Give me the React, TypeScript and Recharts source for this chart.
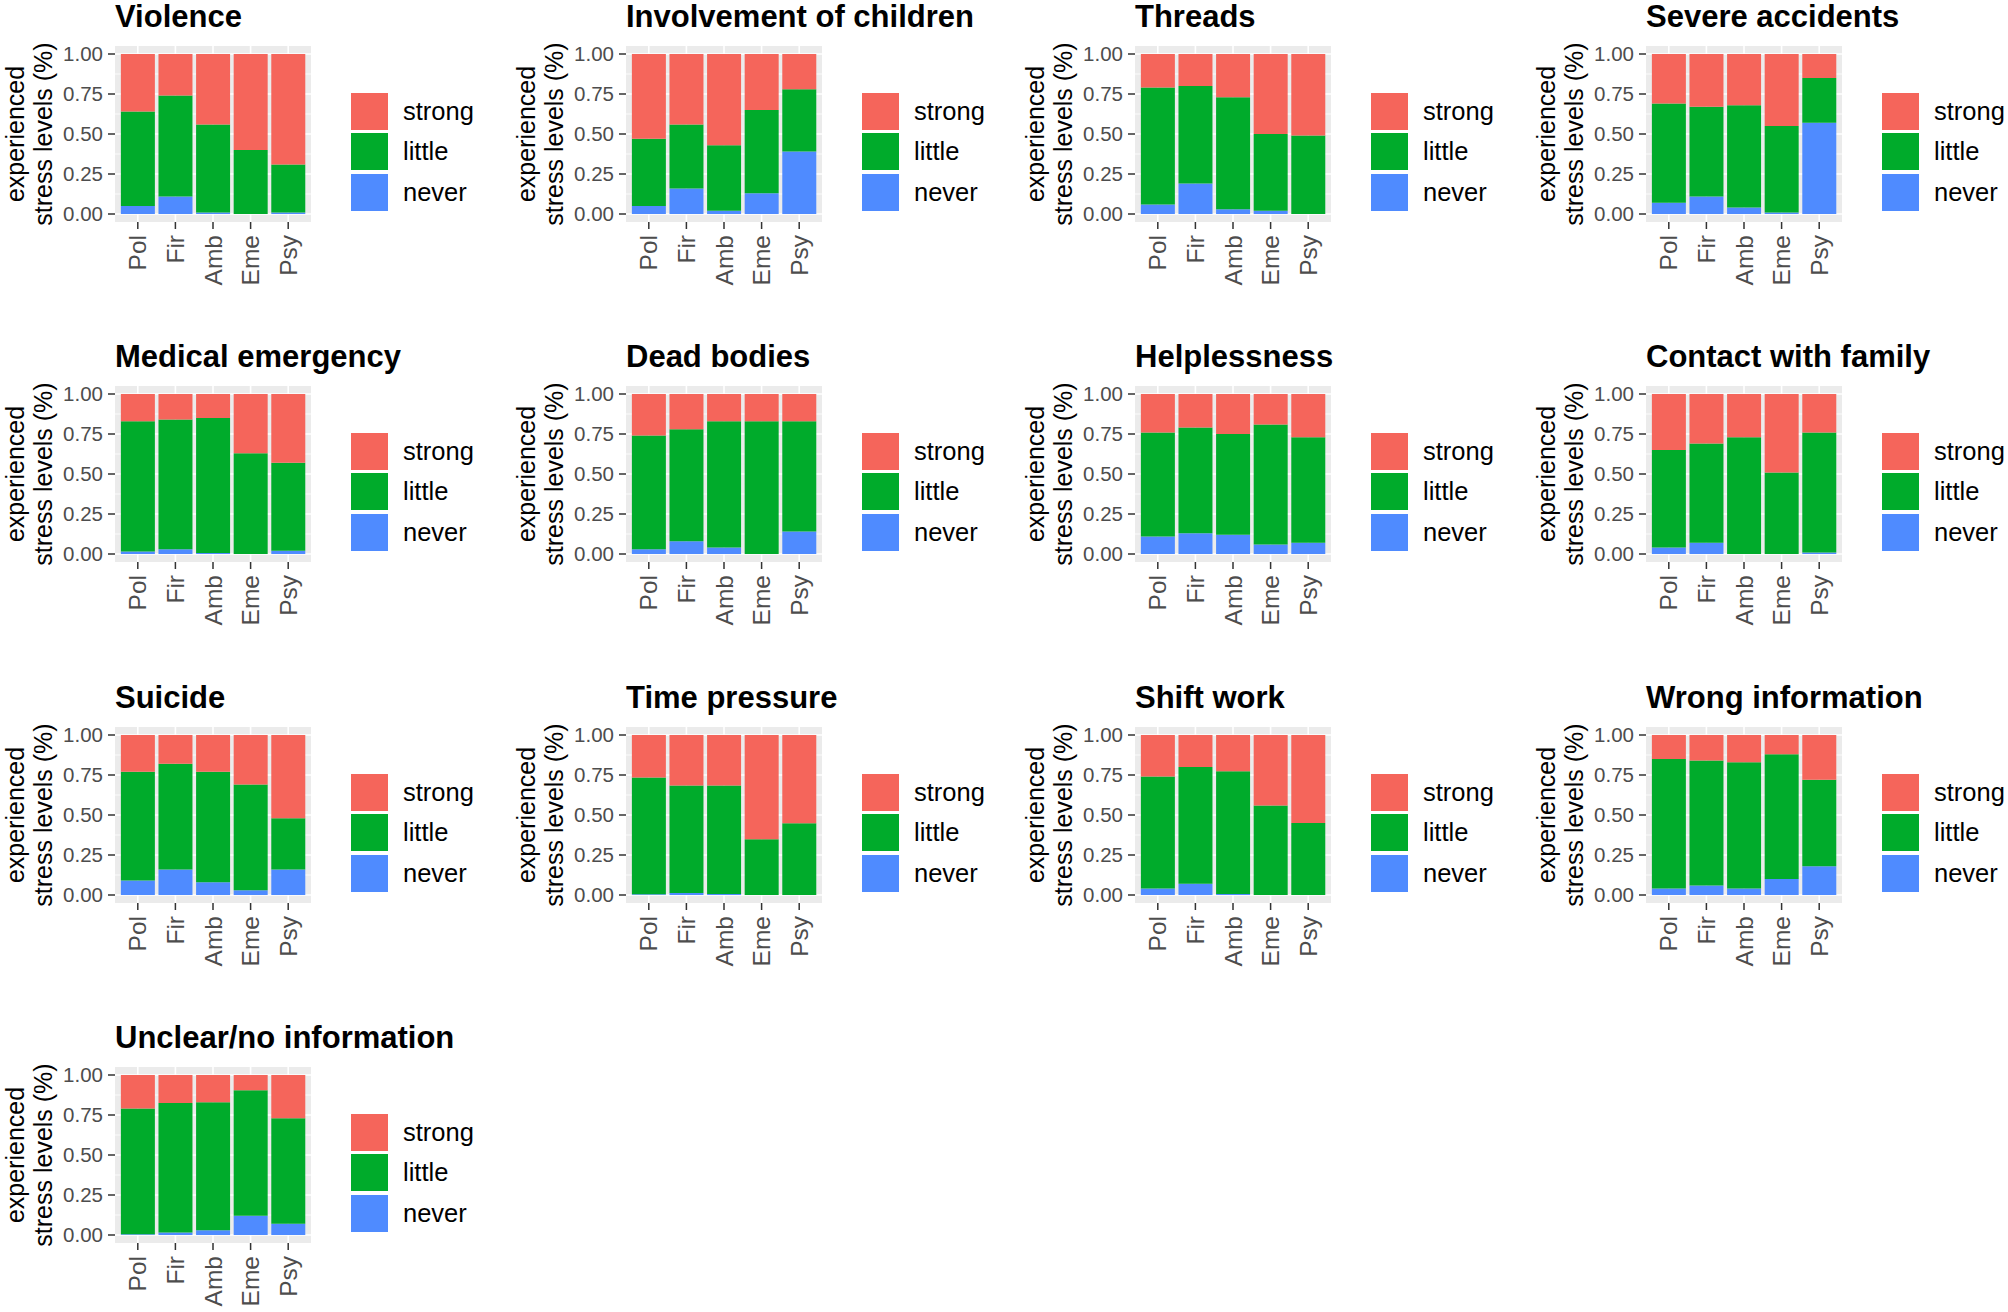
import { Bar, BarChart, CartesianGrid, Legend, XAxis, YAxis } from "recharts";

const services = ["Pol", "Fir", "Amb", "Eme", "Psy"];

const panelTitles = [
  "Violence",
  "Involvement of children",
  "Threads",
  "Severe accidents",
  "Medical emergency",
  "Dead bodies",
  "Helplessness",
  "Contact with family",
  "Suicide",
  "Time pressure",
  "Shift work",
  "Wrong information",
  "Unclear/no information"
];

// share of answers per panel, one row per panel, one value per service
const neverShares = [
  [0.05, 0.11, 0.01, 0.0, 0.01],
  [0.05, 0.16, 0.02, 0.13, 0.39],
  [0.06, 0.19, 0.03, 0.02, 0.0],
  [0.07, 0.11, 0.04, 0.01, 0.57],
  [0.015, 0.03, 0.006, 0.0, 0.02],
  [0.03, 0.08, 0.04, 0.0, 0.14],
  [0.11, 0.13, 0.12, 0.06, 0.07],
  [0.04, 0.07, 0.0, 0.0, 0.01],
  [0.09, 0.16, 0.08, 0.03, 0.16],
  [0.005, 0.012, 0.006, 0.0, 0.0],
  [0.04, 0.07, 0.006, 0.0, 0.0],
  [0.04, 0.06, 0.04, 0.1, 0.18],
  [0.005, 0.015, 0.03, 0.12, 0.07]
];

const littleShares = [
  [0.59, 0.63, 0.55, 0.4, 0.3],
  [0.42, 0.4, 0.41, 0.52, 0.39],
  [0.73, 0.61, 0.7, 0.48, 0.49],
  [0.62, 0.56, 0.64, 0.54, 0.28],
  [0.815, 0.81, 0.844, 0.63, 0.55],
  [0.71, 0.7, 0.79, 0.83, 0.69],
  [0.65, 0.66, 0.63, 0.75, 0.66],
  [0.61, 0.62, 0.73, 0.51, 0.75],
  [0.68, 0.66, 0.69, 0.66, 0.32],
  [0.729, 0.673, 0.679, 0.349, 0.448],
  [0.7, 0.73, 0.767, 0.56, 0.45],
  [0.81, 0.78, 0.79, 0.78, 0.54],
  [0.785, 0.81, 0.8, 0.785, 0.66]
];

const strongShares = [
  [0.36, 0.26, 0.44, 0.6, 0.69],
  [0.53, 0.44, 0.57, 0.35, 0.22],
  [0.21, 0.2, 0.27, 0.5, 0.51],
  [0.31, 0.33, 0.32, 0.45, 0.15],
  [0.17, 0.16, 0.15, 0.37, 0.43],
  [0.26, 0.22, 0.17, 0.17, 0.17],
  [0.24, 0.21, 0.25, 0.19, 0.27],
  [0.35, 0.31, 0.27, 0.49, 0.24],
  [0.23, 0.18, 0.23, 0.31, 0.52],
  [0.266, 0.315, 0.315, 0.651, 0.552],
  [0.26, 0.2, 0.227, 0.44, 0.55],
  [0.15, 0.16, 0.17, 0.12, 0.28],
  [0.21, 0.175, 0.17, 0.095, 0.27]
];

const yTicks = [0, 0.25, 0.5, 0.75, 1];
const yMinorTicks = [0.125, 0.375, 0.625, 0.875];

const levelColors: Record<string, string> = {
  strong: "#F5655B",
  little: "#00AB2B",
  never: "#4F8BFF"
};
// stacking order bottom to top, legend shows it top to bottom
const stackOrder = ["never", "little", "strong"];
const legendOrder = ["strong", "little", "never"];

const colX = [0, 511, 1020, 1531];
const rowY = [0, 340, 681, 1021];

const FONT = "'Liberation Sans', Arial, Helvetica, sans-serif";
const CHART_W = 510;
const CHART_H = 300;
const X_PAD = 4;

function buildRows(panel: number) {
  return services.map((service, i) => ({
    service,
    never: neverShares[panel][i],
    little: littleShares[panel][i],
    strong: strongShares[panel][i]
  }));
}

function XTick(props: any) {
  const { x, y, payload } = props;
  return (
    <text
      transform={`translate(${x},${y}) rotate(-90)`}
      textAnchor="end"
      dominantBaseline="central"
      fontSize={24.5}
      fontFamily={FONT}
      fill="#4D4D4D"
    >
      {payload.value}
    </text>
  );
}

function YTitle({ viewBox }: { viewBox?: any }) {
  const cy = viewBox && viewBox.height ? viewBox.y + viewBox.height / 2 : 134;
  return (
    <text transform={`translate(0,${cy}) rotate(-90)`} textAnchor="middle" fontSize={25} fontFamily={FONT} fill="#000">
      <tspan x={0} y={24}>
        experienced
      </tspan>
      <tspan x={0} y={51.5}>
        stress levels (%)
      </tspan>
    </text>
  );
}

function StressLegend() {
  return (
    <div style={{ fontFamily: FONT, fontSize: 25.5, color: "#000" }}>
      {legendOrder.map((level) => (
        <div key={level} style={{ display: "flex", alignItems: "center", height: 40.5 }}>
          <div style={{ width: 37, height: 37, background: levelColors[level] }} />
          <span style={{ marginLeft: 15, lineHeight: "37px" }}>{level}</span>
        </div>
      ))}
    </div>
  );
}

// vertical grid lines through the middle of each service band
function centreLines({ offset }: any) {
  if (!offset) return [];
  const band = (offset.width - 2 * X_PAD) / services.length;
  return services.map((_, i) => offset.left + X_PAD + band * (i + 0.5));
}

function StressPanel({ panel }: { panel: number }) {
  const left = colX[panel % 4];
  const top = rowY[Math.floor(panel / 4)];
  return (
    <div style={{ position: "absolute", left, top, width: CHART_W, height: CHART_H }}>
      <div
        style={{
          position: "absolute",
          left: 115,
          top: 2,
          fontFamily: FONT,
          fontSize: 31,
          fontWeight: "bold",
          lineHeight: "30px",
          whiteSpace: "nowrap",
          color: "#000"
        }}
      >
        {panelTitles[panel]}
      </div>
      <BarChart
        width={CHART_W}
        height={CHART_H}
        data={buildRows(panel)}
        margin={{ top: 46, right: 199, bottom: 0, left: 0 }}
        barCategoryGap="5%"
      >
        <CartesianGrid
          fill="#EBEBEB"
          fillOpacity={1}
          stroke="#FFFFFF"
          strokeWidth={0.8}
          horizontalValues={yMinorTicks}
          vertical={false}
        />
        <CartesianGrid
          stroke="#FFFFFF"
          strokeWidth={1.6}
          horizontalValues={yTicks}
          verticalCoordinatesGenerator={centreLines}
        />
        <XAxis
          dataKey="service"
          height={78}
          padding={{ left: X_PAD, right: X_PAD }}
          axisLine={false}
          tickLine={{ stroke: "#333333", strokeWidth: 1.5 }}
          tickSize={7}
          tickMargin={6}
          tick={<XTick />}
          interval={0}
        />
        <YAxis
          width={115}
          domain={[-0.05, 1.05]}
          allowDataOverflow
          ticks={yTicks}
          tickFormatter={(v: number) => v.toFixed(2)}
          axisLine={false}
          tickLine={{ stroke: "#333333", strokeWidth: 1.5 }}
          tickSize={7}
          tickMargin={5}
          tick={{ fontSize: 20.5, fill: "#4D4D4D", fontFamily: FONT }}
          label={{ content: (p: any) => <YTitle viewBox={p.viewBox} /> }}
        />
        <Legend
          layout="vertical"
          align="center"
          verticalAlign="middle"
          wrapperStyle={{ left: 351, top: 91, width: "auto" }}
          content={() => <StressLegend />}
        />
        {stackOrder.map((level) => (
          <Bar key={level} dataKey={level} stackId="share" fill={levelColors[level]} isAnimationActive={false} />
        ))}
      </BarChart>
    </div>
  );
}

export default function App() {
  return (
    <div
      style={{
        position: "absolute",
        left: 0,
        top: 0,
        width: 2008,
        height: 1312,
        background: "#FFFFFF",
        overflow: "hidden"
      }}
    >
      {panelTitles.map((_, i) => (
        <StressPanel key={i} panel={i} />
      ))}
    </div>
  );
}
